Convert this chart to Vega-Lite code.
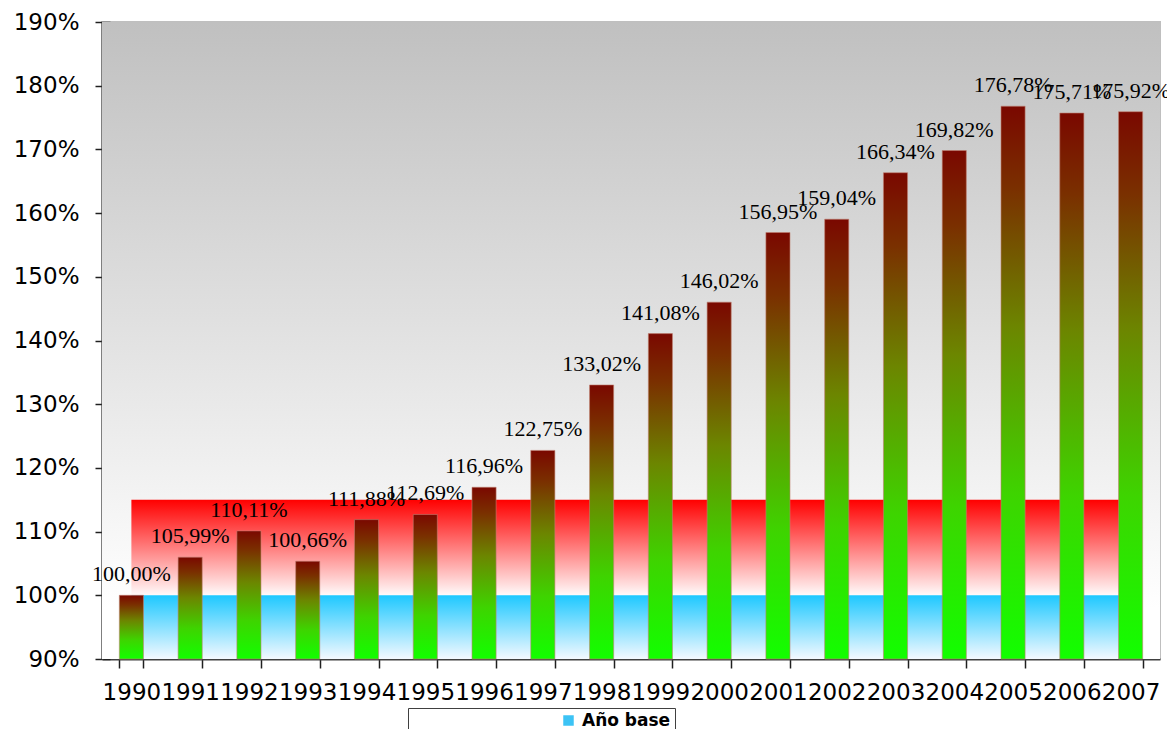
{
  "$schema": "https://vega.github.io/schema/vega-lite/v6.json",
  "width": 1058,
  "height": 637,
  "autosize": "none",
  "padding": {"left": 102, "top": 22, "right": 7, "bottom": 70},
  "background": "white",
  "config": {
    "view": {"stroke": "#bfbfbf", "strokeWidth": 2},
    "axis": {"grid": false}
  },
  "data": {
    "values": [
      {"year": "1990", "value": 100.00, "label": "100,00%"},
      {"year": "1991", "value": 105.99, "label": "105,99%"},
      {"year": "1992", "value": 110.11, "label": "110,11%"},
      {"year": "1993", "value": 105.35, "label": "100,66%"},
      {"year": "1994", "value": 111.88, "label": "111,88%"},
      {"year": "1995", "value": 112.69, "label": "112,69%"},
      {"year": "1996", "value": 116.96, "label": "116,96%"},
      {"year": "1997", "value": 122.75, "label": "122,75%"},
      {"year": "1998", "value": 133.02, "label": "133,02%"},
      {"year": "1999", "value": 141.08, "label": "141,08%"},
      {"year": "2000", "value": 146.02, "label": "146,02%"},
      {"year": "2001", "value": 156.95, "label": "156,95%"},
      {"year": "2002", "value": 159.04, "label": "159,04%"},
      {"year": "2003", "value": 166.34, "label": "166,34%"},
      {"year": "2004", "value": 169.82, "label": "169,82%"},
      {"year": "2005", "value": 176.78, "label": "176,78%"},
      {"year": "2006", "value": 175.71, "label": "175,71%"},
      {"year": "2007", "value": 175.92, "label": "175,92%"}
    ]
  },
  "resolve": {"axis": {"x": "independent", "y": "independent"}},
  "layer": [
    {
      "data": {"values": [{}]},
      "mark": {
        "type": "rect",
        "fill": {
          "gradient": "linear", "x1": 0, "y1": 0, "x2": 0, "y2": 1,
          "stops": [
            {"offset": 0, "color": "#c0c0c0"},
            {"offset": 0.92, "color": "#ffffff"},
            {"offset": 1, "color": "#ffffff"}
          ]
        }
      },
      "encoding": {
        "y": {"datum": 190, "type": "quantitative", "scale": {"domain": [90, 190], "nice": false, "zero": false}, "axis": null},
        "y2": {"datum": 90}
      }
    },
    {
      "mark": {
        "type": "area",
        "fill": {
          "gradient": "linear", "x1": 0, "y1": 0, "x2": 0, "y2": 1,
          "stops": [
            {"offset": 0, "color": "#ff0000"},
            {"offset": 1, "color": "#fffafa"}
          ]
        }
      },
      "encoding": {
        "x": {"field": "year", "type": "ordinal", "axis": null},
        "y": {"datum": 115, "type": "quantitative", "axis": null},
        "y2": {"datum": 100}
      }
    },
    {
      "mark": {
        "type": "area",
        "fill": {
          "gradient": "linear", "x1": 0, "y1": 0, "x2": 0, "y2": 1,
          "stops": [
            {"offset": 0, "color": "#1ec8ff"},
            {"offset": 1, "color": "#f4f9ff"}
          ]
        }
      },
      "encoding": {
        "x": {"field": "year", "type": "ordinal", "axis": {"orient": "bottom", "tickBand": "extent", "tickSize": -7, "labels": false, "domain": false, "title": null, "tickColor": "#202020", "tickWidth": 1.5}},
        "y": {"datum": 100, "type": "quantitative", "axis": {"orient": "left", "values": [90, 100, 110, 120, 130, 140, 150, 160, 170, 180, 190], "tickSize": -8, "labels": false, "domain": false, "title": null, "tickColor": "#202020", "tickWidth": 1.5}},
        "y2": {"datum": 90}
      }
    },
    {
      "mark": {
        "type": "bar",
        "stroke": "#c08070",
        "strokeWidth": 0.6,
        "fill": {
          "gradient": "linear", "x1": 0, "y1": 0, "x2": 0, "y2": 1,
          "stops": [
            {"offset": 0, "color": "#7a0800"},
            {"offset": 0.15, "color": "#7a3000"},
            {"offset": 0.4, "color": "#6c8600"},
            {"offset": 0.7, "color": "#3ed400"},
            {"offset": 1, "color": "#12ff00"}
          ]
        }
      },
      "encoding": {
        "x": {
          "field": "year", "type": "ordinal",
          "scale": {"paddingInner": 0.59, "paddingOuter": 0.295},
          "axis": {"orient": "bottom", "tickBand": "extent", "tickSize": 9, "labelPadding": 13, "labelFont": "DejaVu Sans", "labelFontSize": 23, "labelColor": "black", "labelAngle": 0, "labelOverlap": false, "labelFlush": false, "title": null, "domainColor": "#404040", "domainWidth": 2, "tickColor": "#202020", "tickWidth": 1.5}
        },
        "y": {
          "field": "value", "type": "quantitative",
          "axis": {"orient": "left", "values": [90, 100, 110, 120, 130, 140, 150, 160, 170, 180, 190], "tickSize": 7, "labelPadding": 16, "labelFont": "DejaVu Sans", "labelFontSize": 23, "labelColor": "black", "labelExpr": "datum.value + '%'", "title": null, "domainColor": "#404040", "domainWidth": 2, "tickColor": "#202020", "tickWidth": 1.5}
        },
        "y2": {"datum": 90}
      }
    },
    {
      "mark": {"type": "text", "font": "Liberation Serif", "fontSize": 22, "dy": -14, "baseline": "alphabetic", "align": "center", "color": "black"},
      "encoding": {
        "x": {"field": "year", "type": "ordinal", "axis": null},
        "y": {"field": "value", "type": "quantitative", "axis": null},
        "text": {"field": "label"}
      }
    },
    {
      "data": {"values": [{"year": "1990", "serie": "Año base"}]},
      "mark": {"type": "square", "opacity": 0},
      "encoding": {
        "x": {"field": "year", "type": "ordinal", "axis": null},
        "y": {"datum": 95, "type": "quantitative", "axis": null},
        "color": {
          "field": "serie", "type": "nominal",
          "scale": {"range": ["#3cc3f5"]},
          "legend": {"orient": "none", "legendX": 306, "legendY": 686, "title": null, "strokeColor": "#404040", "fillColor": "white", "padding": 4, "symbolType": "square", "symbolSize": 110, "symbolOpacity": 1, "symbolStrokeWidth": 0, "symbolOffset": 148, "labelOffset": 5, "labelFont": "DejaVu Sans", "labelFontSize": 17, "labelFontWeight": "bold", "labelColor": "black"}
        }
      }
    }
  ]
}
